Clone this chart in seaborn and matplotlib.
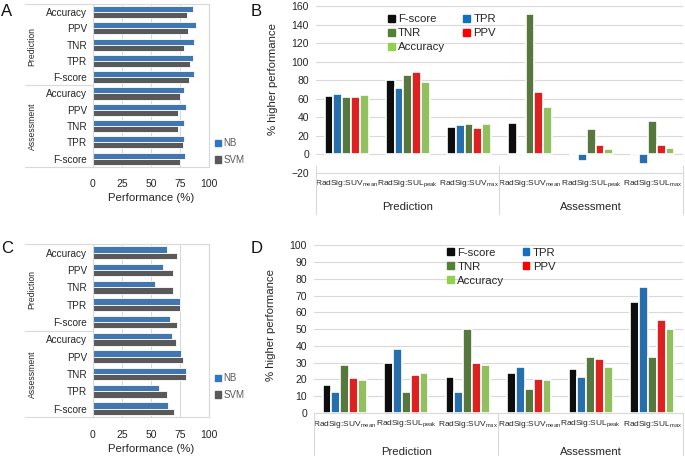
import pandas as pd
import matplotlib.pyplot as plt
import matplotlib.patches as mpatches
import seaborn as sns

# ---- data ----
hbar_rows = ["Accuracy", "PPV", "TNR", "TPR", "F-score"]
hbar_groups = ["Prediction", "Assessment"]

a_nb = [86.2, 88.5, 87.0, 86.0, 87.0, 78.4, 80.0, 78.4, 78.2, 79.0]
a_svm = [81.0, 82.0, 78.7, 83.6, 82.8, 75.3, 73.3, 73.0, 77.6, 75.3]
c_nb = [64.0, 60.0, 53.7, 75.0, 66.6, 67.7, 76.0, 80.0, 57.0, 65.0]
c_svm = [72.0, 69.0, 69.0, 75.0, 72.0, 71.4, 77.7, 80.0, 63.7, 70.0]

models = ["NB", "SVM"]
model_colors = ["#2f77c0", "#595959"]

metrics = ["F-score", "TPR", "TNR", "PPV", "Accuracy"]
metric_colors = ["#0d0d0d", "#1170c2", "#548235", "#ff0000", "#92d050"]

signatures = ["P_SUVmean", "P_SULpeak", "P_SUVmax", "A_SUVmean", "A_SULpeak", "A_SULmax"]
signature_labels = ["RadSig:SUV$_{mean}$", "RadSig:SUL$_{peak}$", "RadSig:SUV$_{max}$",
                    "RadSig:SUV$_{mean}$", "RadSig:SUL$_{peak}$", "RadSig:SUL$_{max}$"]

b_fscore = [63.3, 80.0, 29.5, 33.8, 0.7, -0.3]
b_tpr = [64.7, 71.6, 31.7, 1.4, -7.5, -10.8]
b_tnr = [61.9, 86.0, 32.7, 151.4, 27.7, 36.3]
b_ppv = [61.5, 88.8, 28.4, 67.3, 9.4, 10.0]
b_acc = [63.7, 78.4, 32.4, 51.4, 5.4, 6.8]

d_fscore = [16.7, 30.0, 21.5, 24.0, 26.2, 66.2]
d_tpr = [12.5, 38.4, 12.5, 27.4, 21.7, 75.0]
d_tnr = [28.4, 12.5, 50.0, 14.1, 33.4, 33.4]
d_ppv = [21.0, 22.5, 29.8, 20.0, 32.0, 55.7]
d_acc = [19.7, 24.0, 28.4, 19.7, 27.6, 50.0]

sns.set_theme(style="white")
plt.rcParams['font.family'] = ['Liberation Sans', 'DejaVu Sans']
plt.rcParams['mathtext.default'] = 'regular'

GRID = "#d9d9d9"
TXT = "#262626"
W, H = 685, 459


def box(x0, y_top, x1, y_bot):
    # pixel box -> figure coordinates
    return [x0 / W, 1 - y_bot / H, (x1 - x0) / W, (y_bot - y_top) / H]


def hbar_panel(ax, nb, svm, legend_y):
    keys = [g + "|" + r for g in hbar_groups for r in hbar_rows]
    df = pd.DataFrame({
        "row": keys * 2,
        "value": nb + svm,
        "model": ["NB"] * len(nb) + ["SVM"] * len(svm),
    })
    sns.barplot(data=df, x="value", y="row", hue="model", order=keys, hue_order=models,
                palette=model_colors, orient="h", width=0.74, gap=0, linewidth=0.6,
                edgecolor="white", ax=ax, legend=False)
    ax.set_xlim(0, 100)
    ax.set_ylim(len(keys) - 0.5, -0.5)
    ax.set_xticks([0, 25, 50, 75, 100])
    ax.set_yticks(range(len(keys)))
    ax.set_yticklabels(hbar_rows * 2)
    ax.tick_params(axis="y", length=0, pad=4, labelsize=7.2, labelcolor=TXT)
    ax.tick_params(axis="x", length=0, pad=9, labelsize=7.5, labelcolor=TXT)
    ax.xaxis.grid(True, color=GRID, lw=0.8)
    ax.set_axisbelow(True)
    ax.set_ylabel("")
    ax.set_xlabel("Performance (%)", fontsize=8.2, color=TXT, labelpad=3)
    for s in ax.spines.values():
        s.set_color(GRID)
        s.set_linewidth(0.8)
    # outer frame and group separator reaching over the labels
    x0 = -0.58
    kw = dict(transform=ax.transAxes, clip_on=False, color=GRID, lw=0.8)
    ax.plot([x0, 0], [1, 1], **kw)
    ax.plot([x0, 0], [0, 0], **kw)
    ax.plot([x0, 0], [0.5, 0.5], **kw)
    ax.text(-0.52, 0.74, "Prediction", rotation=90, ha="center", va="center",
            fontsize=6.2, color=TXT, transform=ax.transAxes)
    ax.text(-0.52, 0.25, "Assessment", rotation=90, ha="center", va="center",
            fontsize=6.2, color=TXT, transform=ax.transAxes)
    handles = [mpatches.Patch(color=c, label=m) for m, c in zip(models, model_colors)]
    leg = ax.legend(handles=handles, loc="center left", bbox_to_anchor=(210 / W, legend_y),
                    bbox_transform=ax.figure.transFigure, frameon=False, fontsize=7,
                    handlelength=0.6, handleheight=0.6, handletextpad=0.3,
                    labelspacing=0.7, borderpad=0)
    for t in leg.get_texts():
        t.set_color("#595959")


def vbar_panel(ax, values, ylim, step, sep_top, group_y, legend_pos, label_y):
    df = pd.DataFrame({
        "sig": signatures * len(metrics),
        "metric": [m for m in metrics for _ in signatures],
        "value": sum(values, []),
    })
    sns.barplot(data=df, x="sig", y="value", hue="metric", order=signatures, hue_order=metrics,
                palette=metric_colors, width=0.72, gap=0, linewidth=1.2, edgecolor="white",
                ax=ax, legend=False)
    ax.set_xlim(-0.5, len(signatures) - 0.5)
    ax.set_ylim(*ylim)
    ax.set_yticks(range(ylim[0], ylim[1] + 1, step))
    ax.set_xticks(range(len(signatures)))
    ax.set_xticklabels(signature_labels)
    ax.tick_params(axis="x", length=0, pad=4, labelsize=6, labelcolor=TXT)
    ax.tick_params(axis="y", length=0, pad=5, labelsize=7.5, labelcolor=TXT)
    ax.yaxis.grid(True, color=GRID, lw=0.8)
    ax.set_axisbelow(True)
    ax.set_xlabel("")
    ax.set_ylabel("% higher performance", fontsize=8.2, color=TXT)
    ax.yaxis.set_label_coords(-0.103, label_y)
    for side in ["top", "right", "left"]:
        ax.spines[side].set_visible(False)
    ax.spines["bottom"].set_color(GRID)
    ax.spines["bottom"].set_linewidth(0.8)
    # multilevel category axis: separators and group names
    trans = ax.get_xaxis_transform()
    for xs in [-0.5, 2.5, 5.5]:
        ax.plot([xs, xs], [sep_top, -0.25], transform=trans, clip_on=False, color=GRID, lw=0.8)
    ax.text(1, group_y, "Prediction", transform=trans, ha="center", va="center",
            fontsize=8.2, color=TXT)
    ax.text(4, group_y, "Assessment", transform=trans, ha="center", va="center",
            fontsize=8.2, color=TXT)
    patches = [mpatches.Patch(color=c, label=m) for m, c in zip(metrics, metric_colors)]
    # order so two columns read row-wise: F-score/TPR, TNR/PPV, Accuracy
    order = [0, 2, 4, 1, 3]
    ax.legend(handles=[patches[i] for i in order], ncol=2, loc="upper left",
              bbox_to_anchor=legend_pos, frameon=False, fontsize=8.2,
              handlelength=0.6, handleheight=0.6, handletextpad=0.3,
              labelspacing=0.35, columnspacing=1.6, borderpad=0)


fig = plt.figure(figsize=(6.85, 4.59), dpi=100)

ax_a = fig.add_axes(box(92.7, 4, 209.3, 166.7))
hbar_panel(ax_a, a_nb, a_svm, 1 - 151.5 / H)

ax_c = fig.add_axes(box(92.7, 244, 209.3, 417.3))
hbar_panel(ax_c, c_nb, c_svm, 1 - 386.5 / H)

ax_b = fig.add_axes(box(316, 6, 683, 172.7))
vbar_panel(ax_b, [b_fscore, b_tpr, b_tnr, b_ppv, b_acc], (-20, 160), 20,
           0.04, -0.206, (0.18, 0.985), 0.562)

ax_d = fig.add_axes(box(314, 245.3, 683, 413))
vbar_panel(ax_d, [d_fscore, d_tpr, d_tnr, d_ppv, d_acc], (0, 100), 10,
           0.0, -0.233, (0.345, 1.02), 0.523)

for x, y, s in [(7, 12, "A"), (256, 12, "B"), (7, 248, "C"), (257, 248, "D")]:
    fig.text(x / W, 1 - y / H, s, fontsize=12, ha="center", va="center", color="#111111")

plt.savefig("out.png", dpi=100)
